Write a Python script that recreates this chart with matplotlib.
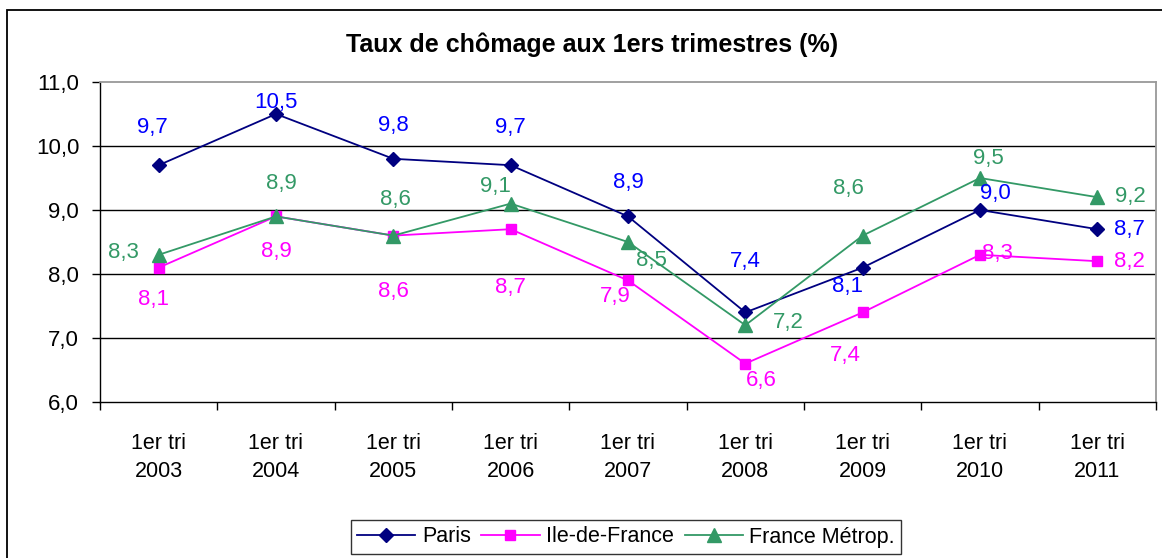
import matplotlib
matplotlib.use("Agg")
import matplotlib.pyplot as plt
from matplotlib.patches import Rectangle
import numpy as np

plt.rcParams['font.family'] = ['Liberation Sans', 'DejaVu Sans']

years = ["2003", "2004", "2005", "2006", "2007", "2008", "2009", "2010", "2011"]
paris = [9.7, 10.5, 9.8, 9.7, 8.9, 7.4, 8.1, 9.0, 8.7]
idf = [8.1, 8.9, 8.6, 8.7, 7.9, 6.6, 7.4, 8.3, 8.2]
france = [8.3, 8.9, 8.6, 9.1, 8.5, 7.2, 8.6, 9.5, 9.2]

# label offsets (pixels) per point
paris_off = [(-6, 38), (0, 12), (0, 33), (0, 38), (0, 34), (0, 51), (-15, -19), (15, 17), (32, 0)]
idf_off = [(-5, -32), (0, -35), (0, -56), (0, -58), (-13, -16), (16, -17), (-17, -43), (17, 1), (32, 0)]
france_off = [(-35, 2), (5, 33), (2, 36), (-15, 17), (23, -18), (43, 3), (-14, 47), (8, 20), (33, 1)]

fig = plt.figure(figsize=(11.62, 5.58), dpi=100)
W, H = 1162, 558
ax = fig.add_axes([100 / W, 1 - 402 / H, (1156 - 100) / W, (402 - 82) / H])

fig.patches.append(Rectangle((7 / W, -0.05), 1.1, 1.05 - 10 / H, transform=fig.transFigure,
                             fill=False, edgecolor='black', linewidth=1.3))

x = np.arange(len(years))
lp, = ax.plot(x, paris, color='#000080', marker='D', markersize=7.5, linewidth=1.3, label='Paris')
li, = ax.plot(x, idf, color='#FF00FF', marker='s', markersize=7.5, linewidth=1.3, label='Ile-de-France')
lf, = ax.plot(x, france, color='#339966', marker='^', markersize=9.5, linewidth=1.3, label='France Métrop.')

for vals, offs, col in [(paris, paris_off, '#0000FF'), (idf, idf_off, '#FF00FF'), (france, france_off, '#339966')]:
    for i, (v, o) in enumerate(zip(vals, offs)):
        ax.annotate(f"{v:.1f}".replace('.', ','), (x[i], v), xytext=o, textcoords='offset pixels',
                    ha='center', va='center', color=col, fontsize=16)

ax.set_xlim(-0.5, len(years) - 0.5)
ax.set_ylim(6, 11)
yt = [6, 7, 8, 9, 10, 11]
ax.set_yticks(yt)
ax.set_yticklabels([f"{v:.1f}".replace('.', ',') for v in yt], fontsize=16)
ax.set_xticks(x)
ax.set_xticklabels([f"1er tri\n{y}" for y in years], fontsize=15.5, linespacing=1.45)
ax.set_xticks(np.arange(-0.5, len(years), 1), minor=True)
ax.tick_params(axis='x', which='major', length=0, pad=22)
ax.tick_params(axis='x', which='minor', length=6, width=1, direction='out')
ax.tick_params(axis='y', length=6, width=1, direction='out', pad=9)

for v in [7, 8, 9, 10]:
    ax.axhline(v, color='black', linewidth=1, zorder=0)

ax.spines['top'].set_color('#999999')
ax.spines['right'].set_color('#999999')
ax.spines['top'].set_linewidth(1.3)
ax.spines['right'].set_linewidth(1.3)
ax.spines['left'].set_linewidth(1)
ax.spines['bottom'].set_linewidth(1)

fig.text(592 / W, 1 - 45 / H, "Taux de chômage aux 1ers trimestres (%)", ha='center', va='center',
         fontsize=18, fontweight='bold')

leg = fig.legend(handles=[lp, li, lf], loc='center', bbox_to_anchor=(626 / W, 1 - 537 / H), ncol=3,
                 fontsize=15.5, frameon=True, fancybox=False, edgecolor='black', handlelength=2.7,
                 columnspacing=0.5, handletextpad=0.3, borderpad=0.3)
leg.get_frame().set_linewidth(1)

fig.savefig("out.png", dpi=100)
